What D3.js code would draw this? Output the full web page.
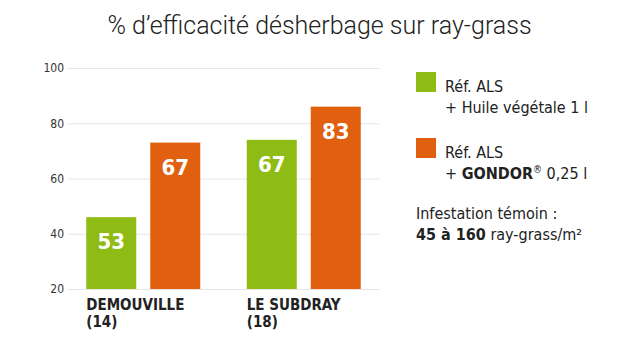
<!DOCTYPE html>
<html><head><meta charset="utf-8">
<script src="https://cdn.jsdelivr.net/npm/d3@7"></script>
<style>body{margin:0;background:#fff}svg{display:block}</style>
</head><body><svg id="c" width="637" height="337"></svg>
<script>
const categories = ["DEMOUVILLE", "LE SUBDRAY"];
const categoryNotes = ["(14)", "(18)"];
const seriesNames = ["Réf. ALS + Huile végétale 1 l", "Réf. ALS + GONDOR® 0,25 l"];
const huileValues = [46, 74];   // bar heights as drawn on the axis
const gondorValues = [73, 86];
const huileLabels = ["53", "67"]; // numbers printed on the bars
const gondorLabels = ["67", "83"];
const yTicks = [20, 40, 60, 80, 100];
const colors = ["#8fbc14", "#e0600f"];

const svg = d3.select("#c");
const y = d3.scaleLinear().domain([20, 100]).range([289, 68]);
const x0 = d3.scaleBand().domain(categories).range([63, 384]);
const x1 = d3.scaleBand().domain([0, 1]).range([0, 114]).paddingInner(0.21875);
const cond = "'DejaVu Sans Condensed', 'DejaVu Sans', sans-serif";

// title
svg.append("text").attr("x", 319.5).attr("y", 34).attr("text-anchor", "middle")
  .style("font-family", "Roboto, sans-serif").style("font-weight", 300)
  .style("font-size", "25px").attr("fill", "#222")
  .text("% d’efficacité désherbage sur ray-grass");

// grid + axis
const axis = d3.axisLeft(y).tickValues(yTicks).tickSize(-312).tickPadding(4);
const g = svg.append("g").attr("transform", "translate(68,0)").call(axis);
g.select(".domain").remove();
g.selectAll(".tick line").attr("stroke", "#e6e6e6").attr("stroke-width", 1);
g.selectAll(".tick text").style("font-family", cond).style("font-size", "12px").attr("fill", "#333");

// bars
const rows = categories.map((c, i) => ({
  cat: c, vals: [huileValues[i], gondorValues[i]], labs: [huileLabels[i], gondorLabels[i]]
}));
rows.forEach(r => {
  const gx = x0(r.cat) + x0.bandwidth() / 2 - 57;
  r.vals.forEach((v, j) => {
    const bx = gx + x1(j);
    svg.append("rect").attr("x", bx).attr("y", y(v)).attr("width", x1.bandwidth())
      .attr("height", y(20) - y(v)).attr("fill", colors[j]);
    svg.append("text").attr("x", bx + x1.bandwidth() / 2).attr("y", y(v) + 32)
      .attr("text-anchor", "middle").style("font-family", cond).style("font-weight", "bold")
      .style("font-size", "22px").attr("fill", "#fff").text(r.labs[j]);
  });
});

// category labels
categories.forEach((c, i) => {
  const lx = x0(c) + x0.bandwidth() / 2 - 57;
  svg.append("text").attr("x", lx).attr("y", 310).style("font-family", cond).style("font-weight", "bold")
    .style("font-size", "15px").attr("fill", "#222").text(c);
  svg.append("text").attr("x", lx).attr("y", 327).style("font-family", cond).style("font-weight", "bold")
    .style("font-size", "15px").attr("fill", "#222").text(categoryNotes[i]);
});

// legend
const lf = (sel) => sel.style("font-family", cond).style("font-size", "16px").attr("fill", "#222");
const legendY = [72, 138];
svg.append("rect").attr("x", 416).attr("y", legendY[0]).attr("width", 20).attr("height", 20).attr("fill", colors[0]);
svg.append("rect").attr("x", 416).attr("y", legendY[1]).attr("width", 20).attr("height", 20).attr("fill", colors[1]);
lf(svg.append("text").attr("x", 445).attr("y", 92)).text("Réf. ALS");
lf(svg.append("text").attr("x", 445).attr("y", 113)).text("+ Huile végétale 1 l");
lf(svg.append("text").attr("x", 445).attr("y", 158)).text("Réf. ALS");
const t2 = lf(svg.append("text").attr("x", 445).attr("y", 179));
t2.append("tspan").text("+ ");
t2.append("tspan").style("font-weight", "bold").text("GONDOR");
t2.append("tspan").attr("dy", -6).style("font-size", "10px").text("®");
t2.append("tspan").attr("dy", 6).text(" 0,25 l");
lf(svg.append("text").attr("x", 416).attr("y", 219)).text("Infestation témoin :");
const t3 = lf(svg.append("text").attr("x", 416).attr("y", 240));
t3.append("tspan").style("font-weight", "bold").text("45 à 160");
t3.append("tspan").text(" ray-grass/m²");
</script></body></html>
